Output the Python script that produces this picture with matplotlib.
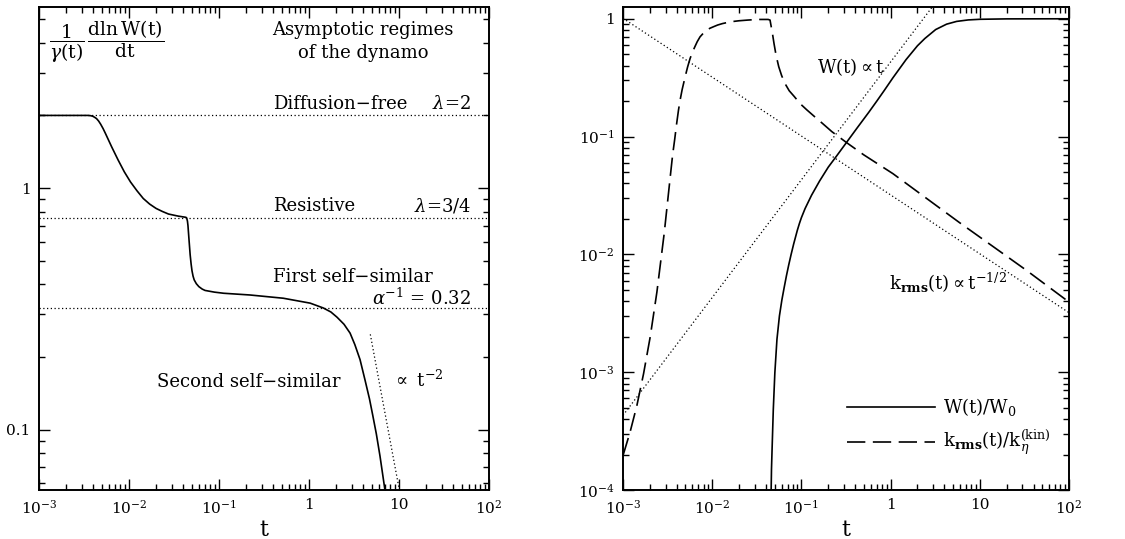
import math
import matplotlib
matplotlib.use('Agg')
import matplotlib.pyplot as plt
from matplotlib.ticker import LogLocator, FuncFormatter, NullFormatter

plt.rcParams['font.family'] = ['DejaVu Serif']
plt.rcParams['mathtext.fontset'] = 'dejavuserif'

# ---------------- data: left panel (normalised growth rate) ----------------
t_rate = [1e-3, 3.0e-3, 3.51e-3, 3.75e-3, 3.96e-3, 4.15e-3, 4.36e-3, 4.6e-3, 4.84e-3,
          5.15e-3, 5.47e-3, 5.95e-3, 6.43e-3, 7.55e-3, 8.87e-3, 0.0104, 0.01227, 0.0144,
          0.01695, 0.020, 0.0234, 0.0275, 0.0351, 0.0429, 0.0438, 0.0446, 0.0452, 0.0463,
          0.0478, 0.0490, 0.0501, 0.0515, 0.053, 0.056, 0.0597, 0.065, 0.070, 0.0888,
          0.1127, 0.221, 0.518, 1.03, 1.44, 1.75, 2.05, 2.45, 2.86, 3.23, 3.69,
          4.20, 4.70, 5.10, 5.60, 6.15, 6.85, 7.30]
rate = [2.0, 2.0, 2.0, 1.995, 1.984, 1.965, 1.94, 1.895, 1.84,
        1.765, 1.685, 1.575, 1.48, 1.31, 1.168, 1.06, 0.975, 0.906,
        0.859, 0.824, 0.801, 0.781, 0.766, 0.757, 0.752, 0.73, 0.70, 0.62,
        0.53, 0.485, 0.455, 0.432, 0.417, 0.402, 0.391, 0.382, 0.377, 0.371,
        0.367, 0.361, 0.350, 0.334, 0.319, 0.307, 0.292, 0.273, 0.251, 0.225, 0.195,
        0.160, 0.134, 0.115, 0.096, 0.0777, 0.059, 0.050]
lambda_diffusion_free = 2.0
lambda_resistive = 0.75
alpha_inv = 0.32
t_powerlaw_m2 = [4.8, 10.0]
rate_powerlaw_m2 = [0.248, 0.0572]

# ---------------- data: right panel ----------------
t_W = [0.0456, 0.0458, 0.0462, 0.0469, 0.0484, 0.0504, 0.0532, 0.0567, 0.0604, 0.064,
       0.068, 0.072, 0.0767, 0.082, 0.09, 0.095, 0.1, 0.11, 0.13, 0.16, 0.2, 0.25, 0.325,
       0.42, 0.57, 0.7, 0.851, 1.06, 1.49, 2.0, 2.42, 3.2, 4.24, 5.5, 7.43, 10.0, 20.0, 100.0]
W_norm = [8e-5, 1e-4, 1.5e-4, 2.2e-4, 4.8e-4, 9.9e-4, 1.9e-3, 3.0e-3, 4.1e-3, 5.2e-3,
          6.6e-3, 8.1e-3, 0.0100, 0.0123, 0.0160, 0.0183, 0.0205, 0.0245, 0.0318, 0.042,
          0.055, 0.069, 0.0905, 0.118, 0.161, 0.200, 0.247, 0.315, 0.45, 0.59, 0.68, 0.81,
          0.90, 0.95, 0.978, 0.99, 0.998, 1.0]

t_k = [1e-3, 1.2e-3, 1.43e-3, 1.7e-3, 2.02e-3, 2.4e-3, 2.9e-3, 3.38e-3, 3.6e-3, 3.8e-3,
       4.0e-3, 4.19e-3, 4.4e-3, 4.6e-3, 4.97e-3, 5.3e-3, 5.65e-3, 6.0e-3, 6.4e-3, 6.8e-3,
       7.31e-3, 7.9e-3, 8.6e-3, 9.4e-3, 0.0103, 0.0115, 0.013, 0.0148, 0.0172, 0.020,
       0.025, 0.029, 0.0342, 0.0424, 0.0445, 0.0456, 0.0475, 0.0493, 0.052, 0.0557, 0.060,
       0.0653, 0.073, 0.0831, 0.097, 0.1146, 0.14, 0.171, 0.22, 0.325, 0.5, 1.06, 5.87,
       32.7, 100.0]
k_norm = [1.96e-4, 3.1e-4, 5.2e-4, 9.7e-4, 2.0e-3, 4.8e-3, 0.0152, 0.045, 0.07, 0.095,
          0.13, 0.168, 0.21, 0.25, 0.321, 0.39, 0.46, 0.52, 0.58, 0.64,
          0.703, 0.75, 0.79, 0.83, 0.855, 0.885, 0.91, 0.93, 0.949, 0.962,
          0.975, 0.982, 0.987, 0.987, 0.975, 0.88, 0.74, 0.617, 0.49, 0.392, 0.33,
          0.283, 0.245, 0.219, 0.19, 0.169, 0.148, 0.130, 0.110, 0.0883, 0.070, 0.0485, 0.0187,
          0.0074, 0.00394]

t_ref_lin = [1e-3, 3.0]
W_ref_lin = [4.3e-4, 1.29]
t_ref_sqrt = [1e-3, 100.0]
k_ref_sqrt = [1.01, 3.2e-3]

x_ticklabels = {-3: r'$10^{-3}$', -2: r'$10^{-2}$', -1: r'$10^{-1}$', 0: '1', 1: '10', 2: r'$10^{2}$'}
yl_ticklabels = {-1: '0.1', 0: '1'}
yr_ticklabels = {-4: r'$10^{-4}$', -3: r'$10^{-3}$', -2: r'$10^{-2}$', -1: r'$10^{-1}$', 0: '1'}

# ---------------- figure ----------------
fig = plt.figure(figsize=(11.25, 5.39), dpi=100)
axL = fig.add_axes([39/1125, 49/539, 450/1125, 483/539])
axR = fig.add_axes([623/1125, 49/539, 446/1125, 483/539])


def fmt_from(d):
    def f(v, pos):
        e = int(round(math.log10(v)))
        return d.get(e, '')
    return FuncFormatter(f)


def style(ax, ylabels):
    ax.set_xscale('log')
    ax.set_yscale('log')
    ax.xaxis.set_major_locator(LogLocator(base=10, numticks=20))
    ax.xaxis.set_minor_locator(LogLocator(base=10, subs=range(2, 10), numticks=20))
    ax.yaxis.set_major_locator(LogLocator(base=10, numticks=20))
    ax.yaxis.set_minor_locator(LogLocator(base=10, subs=range(2, 10), numticks=20))
    ax.xaxis.set_major_formatter(fmt_from(x_ticklabels))
    ax.yaxis.set_major_formatter(fmt_from(ylabels))
    ax.xaxis.set_minor_formatter(NullFormatter())
    ax.yaxis.set_minor_formatter(NullFormatter())
    ax.tick_params(which='both', direction='in', top=True, right=True, labelsize=11, width=1.0)
    ax.tick_params(which='major', length=8)
    ax.tick_params(which='minor', length=4)
    ax.tick_params(axis='x', pad=6)
    ax.tick_params(axis='y', pad=6)
    for s in ax.spines.values():
        s.set_linewidth(1.4)
    ax.set_xlabel('t', fontsize=16, labelpad=2)


dots = (0, (1, 2))
dashes = (0, (11, 4.5))

# ---------- left ----------
axL.plot(t_rate, rate, color='black', lw=1.2)
for lev in (lambda_diffusion_free, lambda_resistive, alpha_inv):
    axL.axhline(lev, color='black', lw=0.9, ls=dots)
axL.plot(t_powerlaw_m2, rate_powerlaw_m2, color='black', lw=0.9, ls=dots)
axL.set_xlim(1e-3, 1e2)
axL.set_ylim(10**-1.25, 10**0.75)
style(axL, yl_ticklabels)

tf = axL.transAxes
fs = 13
axL.text(0.022, 0.928,
         r'$\dfrac{1}{\gamma(\mathrm{t})}\,\dfrac{\mathrm{dln}\,\mathrm{W(t)}}{\mathrm{dt}}$',
         transform=tf, fontsize=13.5, ha='left', va='center')
axL.text(0.72, 0.952, 'Asymptotic regimes', transform=tf, fontsize=fs, ha='center', va='center')
axL.text(0.72, 0.905, 'of the dynamo', transform=tf, fontsize=fs, ha='center', va='center')
axL.text(0.52, 0.799, 'Diffusion\u2212free', transform=tf, fontsize=fs, ha='left', va='center')
axL.text(0.96, 0.799, r'$\lambda$=2', transform=tf, fontsize=fs, ha='right', va='center')
axL.text(0.52, 0.588, 'Resistive', transform=tf, fontsize=fs, ha='left', va='center')
axL.text(0.96, 0.588, r'$\lambda$=3/4', transform=tf, fontsize=fs, ha='right', va='center')
axL.text(0.52, 0.441, 'First self\u2212similar', transform=tf, fontsize=fs, ha='left', va='center')
axL.text(0.96, 0.397, r'$\alpha^{-1}$ = 0.32', transform=tf, fontsize=fs, ha='right', va='center')
axL.text(0.262, 0.224, 'Second self\u2212similar', transform=tf, fontsize=fs, ha='left', va='center')
axL.text(0.784, 0.228, r'$\propto$ t$^{-2}$', transform=tf, fontsize=fs, ha='left', va='center')

# ---------- right ----------
axR.plot(t_W, W_norm, color='black', lw=1.2)
axR.plot(t_k, k_norm, color='black', lw=1.2, ls=dashes)
axR.plot(t_ref_lin, W_ref_lin, color='black', lw=0.9, ls=dots)
axR.plot(t_ref_sqrt, k_ref_sqrt, color='black', lw=0.9, ls=dots)
axR.set_xlim(1e-3, 1e2)
axR.set_ylim(1e-4, 10**0.1)
style(axR, yr_ticklabels)

tr = axR.transAxes
axR.text(0.512, 0.876, r'W(t)$\propto$t', transform=tr, fontsize=fs, ha='center', va='center')
axR.text(0.728, 0.428, r'k$_{\mathbf{rms}}$(t)$\propto$t$^{-1/2}$', transform=tr, fontsize=fs,
         ha='center', va='center')
axR.plot([0.5016, 0.70], [0.1725, 0.1725], transform=tr, color='black', lw=1.2)
axR.plot([0.5016, 0.70], [0.0988, 0.0988], transform=tr, color='black', lw=1.2, ls=dashes)
axR.text(0.7175, 0.1725, r'W(t)/W$_0$', transform=tr, fontsize=fs, ha='left', va='center')
axR.text(0.7175, 0.0988, r'k$_{\mathbf{rms}}$(t)/k$_{\eta}^{(\mathrm{kin})}$', transform=tr,
         fontsize=fs, ha='left', va='center')

fig.savefig('out.png', dpi=100)
